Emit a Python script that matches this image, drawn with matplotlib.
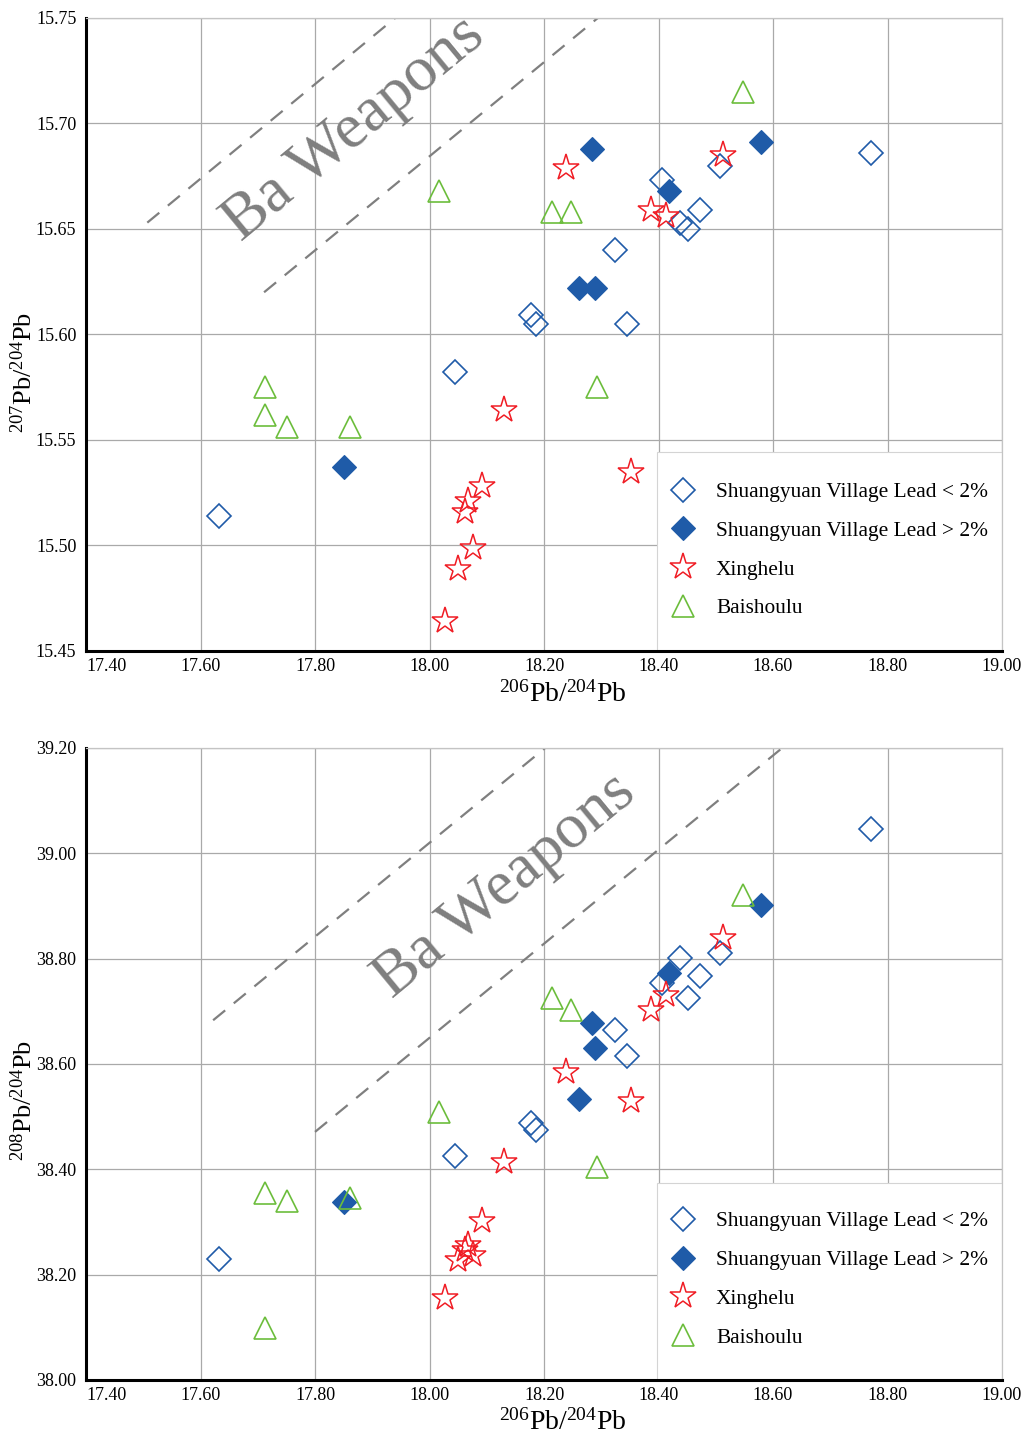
import matplotlib
matplotlib.use('Agg')
import matplotlib.pyplot as plt
from matplotlib.patches import Rectangle

# fonts: Times-like serif everywhere, superscripts through mathtext
plt.rcParams['font.family'] = ['Liberation Serif', 'DejaVu Serif']
plt.rcParams['mathtext.fontset'] = 'custom'
plt.rcParams['mathtext.rm'] = 'Liberation Serif'
plt.rcParams['mathtext.it'] = 'Liberation Serif:italic'

# Shuangyuan Village Lead < 2%
sy_low_206 = [17.632, 18.045, 18.177, 18.186, 18.345, 18.324, 18.406, 18.437, 18.451, 18.472, 18.507, 18.771]
sy_low_207 = [15.514, 15.582, 15.609, 15.605, 15.605, 15.640, 15.673, 15.653, 15.650, 15.659, 15.680, 15.686]
sy_low_208 = [38.229, 38.425, 38.488, 38.474, 38.615, 38.664, 38.754, 38.801, 38.725, 38.767, 38.811, 39.046]

# Shuangyuan Village Lead > 2%
sy_high_206 = [17.851, 18.284, 18.418, 18.579, 18.261, 18.289]
sy_high_207 = [15.537, 15.688, 15.668, 15.691, 15.622, 15.622]
sy_high_208 = [38.338, 38.678, 38.773, 38.902, 38.533, 38.630]

# Xinghelu
xhl_206 = [18.238, 18.513, 18.387, 18.413, 18.130, 18.352, 18.092, 18.067, 18.062, 18.076, 18.050, 18.027]
xhl_207 = [15.679, 15.685, 15.659, 15.656, 15.564, 15.535, 15.528, 15.521, 15.516, 15.499, 15.489, 15.464]
xhl_208 = [38.585, 38.839, 38.702, 38.731, 38.414, 38.530, 38.302, 38.256, 38.246, 38.237, 38.228, 38.155]

# Baishoulu
bsl_206 = [18.017, 18.214, 18.247, 18.548, 17.713, 17.713, 17.751, 17.861, 18.293]
bsl_207 = [15.668, 15.658, 15.658, 15.715, 15.575, 15.562, 15.556, 15.556, 15.575]
bsl_208 = [38.509, 38.725, 38.702, 38.921, 38.355, 38.098, 38.340, 38.345, 38.404]

# "Ba Weapons" field boundaries (x pair, y pair)
ba207_upper = ([17.507, 17.940], [15.653, 15.750])
ba207_lower = ([17.711, 18.294], [15.620, 15.750])
ba208_upper = ([17.622, 18.202], [38.683, 39.200])
ba208_lower = ([17.800, 18.616], [38.471, 39.200])

x_ticks = [17.40, 17.60, 17.80, 18.00, 18.20, 18.40, 18.60, 18.80, 19.00]
y207_ticks = [15.45, 15.50, 15.55, 15.60, 15.65, 15.70, 15.75]
y208_ticks = [38.00, 38.20, 38.40, 38.60, 38.80, 39.00, 39.20]

BLUE = '#1f5ba8'
RED = '#f01c24'
GREEN = '#6cbd3c'
GRAY = '#7f7f7f'

fig = plt.figure(figsize=(10.23, 14.37), dpi=100)
ax1 = fig.add_axes([0.0841, 0.5470, 0.8954, 0.4405])
ax2 = fig.add_axes([0.0841, 0.0397, 0.8954, 0.4398])


def style_axes(ax, yticks):
    ax.set_xlim(x_ticks[0], x_ticks[-1])
    ax.set_ylim(yticks[0], yticks[-1])
    ax.set_xticks(x_ticks)
    ax.set_xticklabels(['%.2f' % v for v in x_ticks])
    ax.set_yticks(yticks)
    ax.set_yticklabels(['%.2f' % v for v in yticks])
    ax.get_xticklabels()[0].set_horizontalalignment('left')
    ax.grid(True, color='#a9a9a9', lw=0.9)
    ax.set_axisbelow(True)
    ax.tick_params(axis='both', length=0, labelsize=13)
    ax.tick_params(axis='x', pad=5)
    ax.tick_params(axis='y', pad=7)
    for s in ['top', 'right']:
        ax.spines[s].set_color('#c4c4c4')
        ax.spines[s].set_linewidth(0.9)
    for s in ['left', 'bottom']:
        ax.spines[s].set_color('black')
        ax.spines[s].set_linewidth(2.2)


def draw_points(ax, y_low, y_high, y_xhl, y_bsl, box_top):
    ax.plot(sy_low_206, y_low, ls='none', marker='D', ms=12.3, mfc='none',
            mec=BLUE, mew=1.2, label='Shuangyuan Village Lead < 2%')
    ax.plot(sy_high_206, y_high, ls='none', marker='D', ms=11.8, mfc=BLUE,
            mec=BLUE, mew=0.8, label='Shuangyuan Village Lead > 2%')
    ax.plot(xhl_206, y_xhl, ls='none', marker='*', ms=19.5, mfc='none',
            mec=RED, mew=1.1, label='Xinghelu')
    ax.plot(bsl_206, y_bsl, ls='none', marker='^', ms=15.5, mfc='none',
            mec=GREEN, mew=1.2, label='Baishoulu')

    # white legend panel covering the grid in the lower right corner
    ax.add_patch(Rectangle((0.623, 0.0), 0.377, box_top, transform=ax.transAxes,
                           facecolor='white', edgecolor='#d4d4d4', lw=0.8, zorder=1.8))
    ax.legend(loc='center', bbox_to_anchor=(0.8117, 0.159), frameon=False,
              fontsize=15.4, numpoints=1, borderpad=0, labelspacing=0.88,
              handlelength=1.12, handletextpad=0.98)


def draw_field(ax, upper, lower, tx, ty):
    for xs, ys in (upper, lower):
        ax.plot(xs, ys, color=GRAY, lw=1.6, dashes=(7, 5), zorder=1.5)
    ax.text(tx, ty, 'Ba Weapons', rotation=39.5, rotation_mode='anchor',
            ha='center', va='center', fontsize=46, color=GRAY, zorder=1.6)


style_axes(ax1, y207_ticks)
draw_field(ax1, ba207_upper, ba207_lower, 17.868, 15.697)
draw_points(ax1, sy_low_207, sy_high_207, xhl_207, bsl_207, 0.314)

style_axes(ax2, y208_ticks)
draw_field(ax2, ba208_upper, ba208_lower, 18.132, 38.938)
draw_points(ax2, sy_low_208, sy_high_208, xhl_208, bsl_208, 0.312)

# axis titles placed in figure pixels
W, H = 1023.0, 1437.0
fig.text(563 / W, 1 - 694 / H, '$^{206}$Pb/$^{204}$Pb', ha='center', va='center', fontsize=20)
fig.text(563 / W, 1 - 1422 / H, '$^{206}$Pb/$^{204}$Pb', ha='center', va='center', fontsize=20)
fig.text(24 / W, 1 - 372 / H, '$^{207}$Pb/$^{204}$Pb', ha='center', va='center', rotation=90, fontsize=19)
fig.text(24 / W, 1 - 1100 / H, '$^{208}$Pb/$^{204}$Pb', ha='center', va='center', rotation=90, fontsize=19)

fig.savefig('out.png', dpi=100)
